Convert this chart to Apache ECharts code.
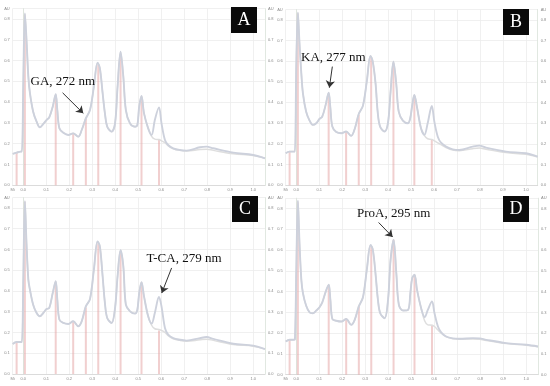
<!DOCTYPE html>
<html>
<head>
<meta charset="utf-8">
<script src="https://cdn.jsdelivr.net/npm/echarts@6/dist/echarts.min.js"></script>
<style>
  html, body { margin: 0; padding: 0; background: #fff; }
  #chart { width: 550px; height: 386px; }
</style>
</head>
<body>
<div id="chart"></div>
<script>
// retention time (shared by all four panels)
var times = [-0.046, -0.029, -0.012, -0.006, 0.0, 0.007, 0.014, 0.022, 0.029, 0.043,
             0.058, 0.072, 0.087, 0.101, 0.113, 0.128, 0.141, 0.148, 0.157, 0.174,
             0.196, 0.217, 0.239, 0.254, 0.272, 0.29, 0.307, 0.323, 0.333, 0.345,
             0.355, 0.365, 0.384, 0.399, 0.41, 0.423, 0.435, 0.446, 0.464, 0.486,
             0.496, 0.504, 0.514, 0.525, 0.543, 0.558, 0.572, 0.59, 0.601, 0.616,
             0.63, 0.652, 0.681, 0.71, 0.768, 0.797, 0.826, 0.913, 1.0, 1.051];

var traceA = [0.151, 0.157, 0.162, 0.162, 0.49, 0.827, 0.70, 0.523, 0.443, 0.354,
              0.306, 0.279, 0.295, 0.314, 0.327, 0.378, 0.438, 0.362, 0.274, 0.253,
              0.242, 0.25, 0.234, 0.266, 0.322, 0.362, 0.475, 0.59, 0.563, 0.443,
              0.346, 0.282, 0.258, 0.298, 0.475, 0.643, 0.523, 0.362, 0.298, 0.282,
              0.29, 0.378, 0.43, 0.346, 0.274, 0.242, 0.314, 0.375, 0.298, 0.218,
              0.194, 0.178, 0.17, 0.167, 0.183, 0.186, 0.178, 0.157, 0.146, 0.13];
var traceA2 = traceA.slice(0, 45).concat([0.235, 0.222, 0.22, 0.214, 0.205,
              0.19, 0.176, 0.168, 0.165, 0.172, 0.174, 0.168, 0.152, 0.143, 0.13]);

var traceB = [0.155, 0.163, 0.163, 0.163, 0.574, 0.835, 0.687, 0.542, 0.445, 0.356,
              0.313, 0.292, 0.3, 0.321, 0.332, 0.389, 0.448, 0.381, 0.284, 0.258,
              0.252, 0.26, 0.239, 0.271, 0.345, 0.384, 0.502, 0.626, 0.598, 0.494,
              0.348, 0.284, 0.26, 0.3, 0.445, 0.598, 0.494, 0.356, 0.313, 0.3,
              0.324, 0.381, 0.437, 0.381, 0.276, 0.244, 0.3, 0.384, 0.308, 0.235,
              0.206, 0.187, 0.174, 0.171, 0.187, 0.192, 0.182, 0.163, 0.155, 0.139];
var traceB2 = traceB.slice(0, 45).concat([0.24, 0.225, 0.222, 0.215, 0.205,
              0.197, 0.183, 0.17, 0.167, 0.177, 0.18, 0.174, 0.158, 0.15, 0.137]);

var traceC = [0.145, 0.154, 0.154, 0.154, 0.45, 0.833, 0.63, 0.455, 0.406, 0.334,
              0.294, 0.278, 0.294, 0.313, 0.318, 0.39, 0.447, 0.358, 0.262, 0.246,
              0.241, 0.254, 0.23, 0.254, 0.326, 0.361, 0.503, 0.639, 0.615, 0.471,
              0.342, 0.27, 0.246, 0.318, 0.471, 0.596, 0.519, 0.334, 0.302, 0.291,
              0.31, 0.39, 0.442, 0.374, 0.278, 0.243, 0.294, 0.371, 0.326, 0.222,
              0.19, 0.173, 0.165, 0.161, 0.173, 0.178, 0.169, 0.146, 0.137, 0.12];
var traceC2 = traceC.slice(0, 45).concat([0.235, 0.218, 0.214, 0.21, 0.2,
              0.185, 0.17, 0.162, 0.158, 0.165, 0.168, 0.162, 0.142, 0.134, 0.12]);

var traceD = [0.16, 0.168, 0.168, 0.17, 0.5, 0.838, 0.633, 0.457, 0.393, 0.332,
              0.3, 0.296, 0.309, 0.325, 0.348, 0.4, 0.433, 0.364, 0.268, 0.26,
              0.256, 0.268, 0.24, 0.264, 0.329, 0.373, 0.508, 0.625, 0.601, 0.481,
              0.361, 0.296, 0.272, 0.361, 0.553, 0.649, 0.489, 0.337, 0.309, 0.312,
              0.393, 0.465, 0.481, 0.409, 0.32, 0.277, 0.312, 0.353, 0.296, 0.232,
              0.204, 0.184, 0.175, 0.173, 0.176, 0.175, 0.168, 0.152, 0.144, 0.136];
var traceD2 = traceD.slice(0, 45).concat([0.26, 0.24, 0.238, 0.232, 0.215,
              0.2, 0.182, 0.173, 0.171, 0.172, 0.171, 0.165, 0.15, 0.142, 0.135]);

// integrated peak markers
var peakTimes = [-0.029, 0.007, 0.141, 0.217, 0.272, 0.326, 0.423, 0.514, 0.59];
var peaksA = [0.157, 0.82, 0.43, 0.25, 0.32, 0.58, 0.63, 0.42, 0.22];
var peaksB = [0.163, 0.83, 0.44, 0.26, 0.34, 0.62, 0.59, 0.43, 0.22];
var peaksC = [0.154, 0.83, 0.44, 0.25, 0.32, 0.63, 0.59, 0.44, 0.21];
var peaksD = [0.168, 0.83, 0.43, 0.27, 0.33, 0.62, 0.65, 0.48, 0.24];

var panelNames = ['A', 'B', 'C', 'D'];
var labelTexts = ['GA, 272 nm', 'KA, 277 nm', 'T-CA, 279 nm', 'ProA, 295 nm'];
// arrow start / end in data coords
var arrowFrom = [[0.171, 0.445], [0.157, 0.574], [0.645, 0.511], [0.358, 0.733]];
var arrowTo   = [[0.261, 0.346], [0.144, 0.472], [0.602, 0.390], [0.419, 0.663]];

var xTicks = [-0.046, 0, 0.1, 0.2, 0.3, 0.4, 0.5, 0.6, 0.7, 0.8, 0.9, 1.0];

var traces = [[traceA, traceA2], [traceB, traceB2], [traceC, traceC2], [traceD, traceD2]];
var peaks = [peaksA, peaksB, peaksC, peaksD];

// layout of the 4 panels (px)
var layout = [
    {left: 12.7, top: 8.6, width: 252.3, height: 176.7, box: [231, 7], text: [30.5, 75]},
    {left: 285.7, top: 9.5, width: 252, height: 175.8, box: [503, 9], text: [301, 51.5]},
    {left: 12.7, top: 197.6, width: 252.3, height: 176.4, box: [232, 196], text: [146.5, 252.5]},
    {left: 285.7, top: 198.2, width: 252.3, height: 176.5, box: [503, 196], text: [357, 207.5]}
];

function pairs(xs, ys){
    return xs.map(function(x, i){ return [x, ys[i]]; });
}

var chart = echarts.init(document.getElementById('chart'));

var grids = [], xAxes = [], yAxes = [], series = [], graphics = [];

layout.forEach(function(l, i){
    grids.push({left: l.left, top: l.top, width: l.width, height: l.height, containLabel: false});
    xAxes.push({
        gridIndex: i, type: 'value', min: -0.046, max: 1.051,
        axisLine: {lineStyle: {color: '#d6d6d6', width: 0.8}},
        axisTick: {show: false, customValues: xTicks},
        axisLabel: {
            customValues: xTicks, fontSize: 4, color: '#8a8a8a', margin: 2.5,
            formatter: function(v){ return v < 0 ? 'Mi' : v.toFixed(1); }
        },
        splitLine: {show: true, lineStyle: {color: '#ececec', width: 0.8}}
    });
    var yBase = {
        gridIndex: i, type: 'value', min: 0, max: 0.85, interval: 0.1,
        axisLine: {show: true, lineStyle: {color: '#d9e2d9', width: 0.8}},
        axisTick: {show: false},
        axisLabel: {
            fontSize: 4, color: '#8a8a8a', margin: 3,
            formatter: function(v){ return v > 0.81 ? 'AU' : v.toFixed(1); }
        }
    };
    yAxes.push(Object.assign({}, yBase, {position: 'left',
        splitLine: {show: true, lineStyle: {color: '#ececec', width: 0.8}}}));
    yAxes.push(Object.assign({}, yBase, {position: 'right', splitLine: {show: false}}));

    series.push({
        type: 'bar', xAxisIndex: i, yAxisIndex: 2 * i,
        data: pairs(peakTimes, peaks[i]),
        barWidth: 2, z: 1, silent: true,
        itemStyle: {color: 'rgba(228,160,160,0.5)'}
    });
    series.push({
        type: 'line', xAxisIndex: i, yAxisIndex: 2 * i,
        data: pairs(times, traces[i][1]),
        showSymbol: false, smooth: 0.35, z: 2, silent: true,
        lineStyle: {color: '#dedede', width: 1.5}
    });
    series.push({
        type: 'line', xAxisIndex: i, yAxisIndex: 2 * i,
        data: pairs(times, traces[i][0]),
        showSymbol: false, smooth: 0.35, z: 3, silent: true,
        lineStyle: {color: '#cdd1dc', width: 1.9},
        markLine: {
            silent: true, animation: false,
            symbol: ['none', 'arrow'], symbolSize: 7,
            label: {show: false},
            lineStyle: {color: '#333', width: 1, type: 'solid', opacity: 1},
            data: [[{coord: arrowFrom[i]}, {coord: arrowTo[i]}]]
        }
    });

    graphics.push({
        type: 'rect', left: l.box[0], top: l.box[1], z: 100,
        shape: {width: 26, height: 26}, style: {fill: '#0a0a0a'}
    });
    graphics.push({
        type: 'text', x: l.box[0] + 13, y: l.box[1] + 13, z: 101,
        style: {text: panelNames[i], fill: '#fff', font: '18px "Liberation Serif"',
                align: 'center', verticalAlign: 'middle'}
    });
    graphics.push({
        type: 'text', left: l.text[0], top: l.text[1], z: 100,
        style: {text: labelTexts[i], fill: '#111', font: '13px "Liberation Serif"'}
    });
});

chart.setOption({
    animation: false,
    backgroundColor: '#fff',
    grid: grids,
    xAxis: xAxes,
    yAxis: yAxes,
    series: series,
    graphic: graphics
});
</script>
</body>
</html>
